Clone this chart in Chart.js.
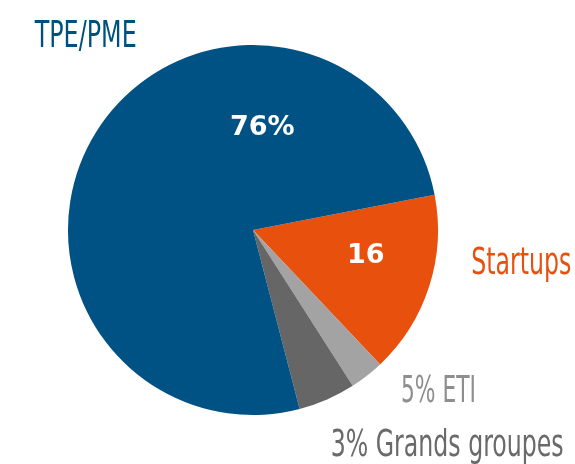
<!DOCTYPE html>
<html lang="fr">
<head>
  <meta charset="UTF-8" />
  <title>Répartition</title>
  <script src="https://cdn.jsdelivr.net/npm/chart.js"></script>
  <style>
    html, body { margin: 0; padding: 0; background: #fff; }
    #wrap { width: 575px; height: 464px; }
  </style>
</head>
<body>
  <div id="wrap"><canvas id="pie"></canvas></div>

  <script>
    // slices, clockwise from the orange one
    const categories = ['Startups', 'Grands groupes', 'ETI', 'TPE/PME'];
    const shares = [16, 3, 5, 76];
    const insideText = ['16', '', '', '76%'];
    const outsideText = ['Startups', '3% Grands groupes', '5% ETI', 'TPE/PME'];

    const sliceColors = ['#e8500e', '#a3a3a3', '#666666', '#005284'];
    const textColors = ['#e8500e', '#6a6a6a', '#8e8e8e', '#00507f'];

    // label anchors in units of the pie radius, relative to the centre
    const insidePos = [[0.61, 0.14], null, null, [0.05, -0.55]];
    const outsidePos = [[1.18, 0.24], [0.42, 1.22], [0.8, 0.93], [-1.18, -0.99]];
    const outsideWidth = [100, 233, 75, 102];

    const labelPlugin = {
      id: 'sliceLabels',
      afterDatasetsDraw(chart) {
        const ctx = chart.ctx;
        const arc = chart.getDatasetMeta(0).data[0];
        const cx = arc.x, cy = arc.y, r = arc.outerRadius;
        ctx.save();
        // numbers inside the slices
        ctx.font = 'bold 27px "DejaVu Sans"';
        ctx.fillStyle = '#ffffff';
        ctx.textAlign = 'center';
        ctx.textBaseline = 'middle';
        insideText.forEach((t, i) => {
          if (!t) return;
          ctx.fillText(t, cx + insidePos[i][0] * r, cy + insidePos[i][1] * r);
        });
        // names outside, narrow type
        ctx.font = '38px "Liberation Sans Narrow", "DejaVu Sans Condensed", sans-serif';
        ctx.textAlign = 'left';
        ctx.textBaseline = 'alphabetic';
        outsideText.forEach((t, i) => {
          const w = ctx.measureText(t).width;
          const sx = outsideWidth[i] / w;
          ctx.save();
          ctx.translate(cx + outsidePos[i][0] * r, cy + outsidePos[i][1] * r);
          ctx.scale(sx, 1);
          ctx.fillStyle = textColors[i];
          ctx.fillText(t, 0, 0);
          ctx.restore();
        });
        ctx.restore();
      }
    };

    new Chart(document.getElementById('pie'), {
      type: 'pie',
      data: {
        labels: categories,
        datasets: [{
          data: shares,
          backgroundColor: sliceColors,
          borderWidth: 0
        }]
      },
      options: {
        responsive: true,
        maintainAspectRatio: false,
        animation: false,
        rotation: 79,
        layout: { padding: { top: 45, bottom: 49, left: 68, right: 137 } },
        plugins: {
          legend: { display: false },
          tooltip: { enabled: false }
        }
      },
      plugins: [labelPlugin]
    });
  </script>
</body>
</html>
